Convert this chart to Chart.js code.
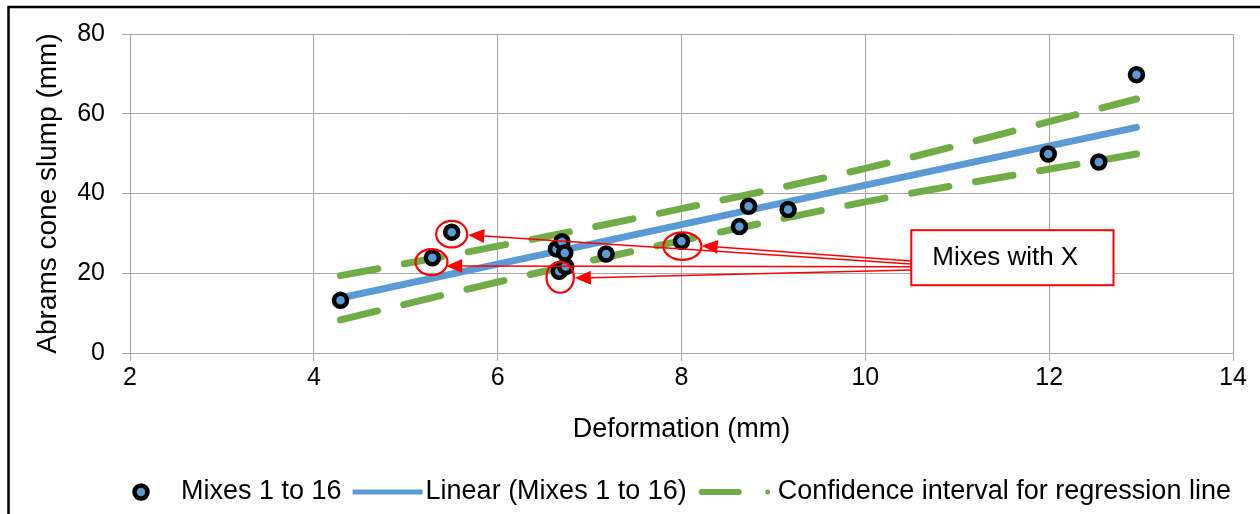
<!DOCTYPE html>
<html>
<head>
<meta charset="utf-8">
<script src="https://cdn.jsdelivr.net/npm/chart.js@4.4.1/dist/chart.umd.min.js"></script>
<style>
    html, body { margin: 0; padding: 0; background: #fff; }
    #wrap { width: 1260px; height: 514px; }
</style>
</head>
<body>
<div id="wrap"><canvas id="chart" width="1260" height="514"></canvas></div>
<script>
// Mixes 1 to 16 (deformation vs slump)
const deformation = [4.29, 5.29, 5.50, 6.64, 6.70, 6.73, 6.67, 6.74, 7.18, 8.00, 8.63, 8.73, 9.16, 11.99, 12.54, 12.95];
const slump = [13.2, 23.9, 30.3, 26.1, 27.9, 25.1, 20.5, 21.7, 24.8, 28.0, 31.7, 36.8, 36.0, 49.9, 47.9, 69.8];

// regression line and its confidence band
const fitX = [4.29, 6, 8, 10, 12.95];
const fitY = [13.8, 22.3, 32.2, 42.1, 56.6];
const ciUpper = [19.4, 26.8, 36.2, 46.3, 63.7];
const ciLower = [8.3, 17.8, 28.2, 37.9, 49.9];

// axis ticks
const xTicks = [2, 4, 6, 8, 10, 12, 14];
const yTicks = [0, 20, 40, 60, 80];

// "Mixes with X" callout: circled points and where the arrows point
const circledX = [5.50, 5.28, 6.68, 8.01];
const circledY = [29.8, 22.8, 19.0, 26.8];
const arrowTipX = [5.68, 5.44, 6.84, 8.22];
const arrowTipY = [29.6, 21.8, 18.8, 26.9];
const arrowStartY = [22.3, 21.6, 20.8, 23.1];

const FONT = '"Liberation Sans", Arial, sans-serif';
const BLUE = '#5B9BD5';
const GREEN = '#70AD47';
const GRID = '#a6a6a6';

Chart.defaults.color = '#000';
Chart.defaults.font.family = FONT;

function toPoints(xs, ys) {
    return xs.map((x, i) => ({ x: x, y: ys[i] }));
}

// fondo blanco y marco negro
const framePlugin = {
    id: 'frame',
    beforeDraw(chart) {
        const ctx = chart.ctx;
        ctx.save();
        ctx.fillStyle = '#fff';
        ctx.fillRect(0, 0, chart.width, chart.height);
        ctx.strokeStyle = '#000';
        ctx.lineWidth = 2.5;
        ctx.beginPath();
        ctx.moveTo(8.5, chart.height + 5);
        ctx.lineTo(8.5, 7);
        ctx.lineTo(chart.width + 5, 7);
        ctx.stroke();
        ctx.restore();
    }
};

// callout: ellipses, arrows and the text box
const calloutPlugin = {
    id: 'callout',
    afterDatasetsDraw(chart) {
        const ctx = chart.ctx;
        const xs = chart.scales.x;
        const ys = chart.scales.y;
        const boxLeft = xs.getPixelForValue(10.50);
        const boxRight = xs.getPixelForValue(12.70);
        const boxTop = ys.getPixelForValue(30.8);
        const boxBottom = ys.getPixelForValue(17.0);
        const radii = [[15.5, 13.3], [16, 13], [13.7, 15.5], [19, 13.7]];

        ctx.save();
        ctx.strokeStyle = '#ff0000';
        ctx.fillStyle = '#ff0000';
        ctx.lineWidth = 2.2;
        circledX.forEach((cx, i) => {
            ctx.beginPath();
            ctx.ellipse(xs.getPixelForValue(cx), ys.getPixelForValue(circledY[i]), radii[i][0], radii[i][1], 0, 0, 2 * Math.PI);
            ctx.stroke();
        });

        ctx.lineWidth = 1.5;
        arrowTipX.forEach((tx, i) => {
            const x1 = boxLeft, y1 = ys.getPixelForValue(arrowStartY[i]);
            const x2 = xs.getPixelForValue(tx), y2 = ys.getPixelForValue(arrowTipY[i]);
            const ang = Math.atan2(y2 - y1, x2 - x1);
            const len = 16, half = 7;
            const bx = x2 - len * Math.cos(ang), by = y2 - len * Math.sin(ang);
            ctx.beginPath();
            ctx.moveTo(x1, y1);
            ctx.lineTo(bx, by);
            ctx.stroke();
            ctx.beginPath();
            ctx.moveTo(x2, y2);
            ctx.lineTo(bx + half * Math.sin(ang), by - half * Math.cos(ang));
            ctx.lineTo(bx - half * Math.sin(ang), by + half * Math.cos(ang));
            ctx.closePath();
            ctx.fill();
        });

        ctx.fillStyle = '#fff';
        ctx.fillRect(boxLeft, boxTop, boxRight - boxLeft, boxBottom - boxTop);
        ctx.lineWidth = 2;
        ctx.strokeRect(boxLeft, boxTop, boxRight - boxLeft, boxBottom - boxTop);
        ctx.fillStyle = '#000';
        ctx.font = '26px ' + FONT;
        ctx.textBaseline = 'middle';
        ctx.fillText('Mixes with X', boxLeft + 21, (boxTop + boxBottom) / 2);
        ctx.restore();
    }
};

// leyenda abajo, dibujada a mano
const legendPlugin = {
    id: 'bottomLegend',
    afterDraw(chart) {
        const ctx = chart.ctx;
        const sets = chart.data.datasets;
        const y = 492;
        ctx.save();
        ctx.font = '27px ' + FONT;
        ctx.textBaseline = 'middle';

        // marker
        ctx.beginPath();
        ctx.arc(141, y, sets[0].pointRadius, 0, 2 * Math.PI);
        ctx.fillStyle = sets[0].pointBackgroundColor;
        ctx.fill();
        ctx.lineWidth = sets[0].pointBorderWidth;
        ctx.strokeStyle = sets[0].pointBorderColor;
        ctx.stroke();
        let x = 181;
        ctx.fillStyle = '#000';
        ctx.fillText(sets[0].label, x, y);
        x += ctx.measureText(sets[0].label).width + 11;

        // linear
        ctx.beginPath();
        ctx.moveTo(x, y);
        ctx.lineTo(x + 70, y);
        ctx.strokeStyle = sets[1].borderColor;
        ctx.lineWidth = 5;
        ctx.stroke();
        x += 73;
        ctx.fillText(sets[1].label, x, y);
        x += ctx.measureText(sets[1].label).width + 15;

        // confidence
        ctx.beginPath();
        ctx.moveTo(x, y);
        ctx.lineTo(x + 37, y);
        ctx.strokeStyle = sets[2].borderColor;
        ctx.lineWidth = 6;
        ctx.lineCap = 'round';
        ctx.stroke();
        ctx.beginPath();
        ctx.arc(x + 66, y, 2.5, 0, 2 * Math.PI);
        ctx.fillStyle = sets[2].borderColor;
        ctx.fill();
        ctx.fillStyle = '#000';
        ctx.fillText(sets[2].label, x + 76, y);
        ctx.restore();
    }
};

const bandStyle = {
    showLine: true,
    borderColor: GREEN,
    backgroundColor: GREEN,
    borderWidth: 7,
    borderDash: [38, 27],
    borderCapStyle: 'round',
    cubicInterpolationMode: 'monotone',
    pointRadius: 0,
    fill: false
};

new Chart(document.getElementById('chart'), {
    type: 'scatter',
    data: {
        datasets: [
            {
                label: 'Mixes 1 to 16',
                data: toPoints(deformation, slump),
                pointRadius: 6.5,
                pointBorderWidth: 4.5,
                pointBackgroundColor: BLUE,
                pointBorderColor: '#000'
            },
            {
                label: 'Linear (Mixes 1 to 16)',
                data: toPoints(fitX, fitY),
                showLine: true,
                borderColor: BLUE,
                backgroundColor: BLUE,
                borderWidth: 7,
                borderCapStyle: 'round',
                pointRadius: 0
            },
            Object.assign({ label: 'Confidence interval for regression line', data: toPoints(fitX, ciUpper) }, bandStyle),
            Object.assign({ label: 'Confidence interval for regression line', data: toPoints(fitX, ciLower) }, bandStyle)
        ]
    },
    options: {
        responsive: false,
        animation: false,
        layout: { padding: { left: 0, right: 27, top: 34, bottom: 61 } },
        plugins: {
            legend: { display: false },
            tooltip: { enabled: false }
        },
        scales: {
            x: {
                type: 'linear',
                min: xTicks[0],
                max: xTicks[xTicks.length - 1],
                afterBuildTicks: s => { s.ticks = xTicks.map(v => ({ value: v })); },
                afterFit: s => { s.height = 100; },
                grid: { color: GRID, tickLength: 8, lineWidth: 1 },
                border: { color: GRID, width: 1 },
                ticks: { font: { size: 25 }, padding: 2, maxRotation: 0 },
                title: {
                    display: true,
                    text: 'Deformation (mm)',
                    font: { size: 27 },
                    padding: { top: 0, bottom: 7 }
                }
            },
            y: {
                type: 'linear',
                min: yTicks[0],
                max: yTicks[yTicks.length - 1],
                afterBuildTicks: s => { s.ticks = yTicks.map(v => ({ value: v })); },
                afterFit: s => { s.width = 130; },
                grid: { color: GRID, tickLength: 8, lineWidth: 1 },
                border: { color: GRID, width: 1 },
                ticks: { font: { size: 25 }, padding: 17 },
                title: {
                    display: true,
                    text: 'Abrams cone slump (mm)',
                    font: { size: 28 },
                    padding: { top: 31, bottom: 0 }
                }
            }
        }
    },
    plugins: [framePlugin, calloutPlugin, legendPlugin]
});
</script>
</body>
</html>
